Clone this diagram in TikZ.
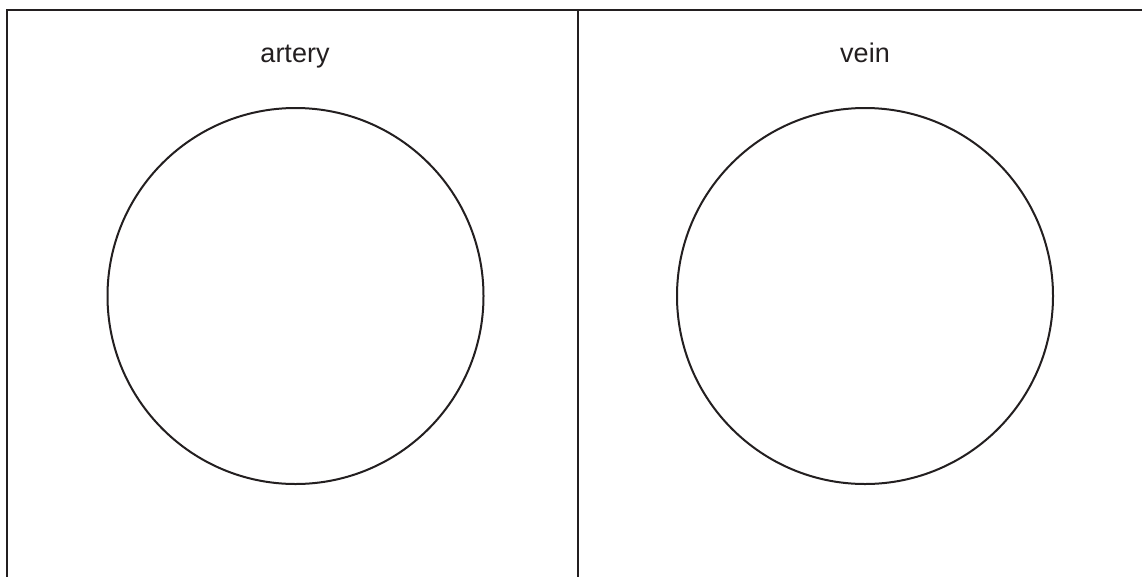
\documentclass[tikz,border=0pt]{standalone}
\usepackage{fontspec}
\setmainfont{Liberation Sans}
\definecolor{ink}{HTML}{231F20}
\begin{document}
\begin{tikzpicture}[x=1pt,y=-1pt,
  frame/.style={draw=ink,line width=2.6pt},
  vessel/.style={draw=ink,line width=2pt,circle,minimum size=376pt,inner sep=0pt},
  title/.style={font=\fontsize{27}{30}\selectfont,text=ink,anchor=base}]
\useasboundingbox (0,0) rectangle (1142,576);
\fill[white] (0,0) rectangle (1142,576);
\coordinate (tl) at (7,10);
\coordinate (tr) at (1145,10);
\coordinate (bl) at (7,580);
\coordinate (tm) at (578,10);
\coordinate (bm) at (578,580);
\draw[frame] (bl) -- (tl) -- (tr);
\draw[frame] (tm) -- (bm);
\node[title] (artery) at (295,62) {artery};
\node[title] (vein) at (865,62) {vein};
\node[vessel] (c1) at (295.5,296) {};
\node[vessel] (c2) at (865,296) {};
\end{tikzpicture}
\end{document}
